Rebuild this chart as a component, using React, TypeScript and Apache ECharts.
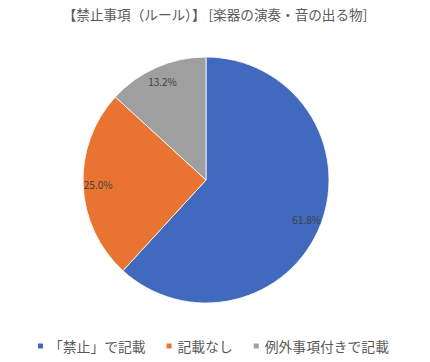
import React, { useEffect, useRef } from "react";
import * as echarts from "echarts";

const TITLE = "【禁止事項（ルール）】 [楽器の演奏・音の出る物]";
const categories = ["「禁止」で記載", "記載なし", "例外事項付きで記載"];
const values = [61.8, 25.0, 13.2];
const colors = ["#4169BE", "#E97432", "#9F9F9F"];

const FONT = "'Noto Sans CJK JP', 'Noto Sans', sans-serif";

export default function App() {
  const ref = useRef<HTMLDivElement>(null);
  useEffect(() => {
    if (!ref.current) return;
    const chart = echarts.init(ref.current, undefined, { renderer: "svg" });
    const data = categories.map((name, i) => ({
      name,
      value: values[i],
      itemStyle: { color: colors[i] },
    }));
    chart.setOption({
      animation: false,
      backgroundColor: "#ffffff",
      title: {
        text: TITLE,
        left: "center",
        top: 2,
        textStyle: { fontFamily: FONT, fontSize: 13.6, fontWeight: "normal", color: "#595959" },
      },
      legend: {
        data: categories,
        left: 31,
        top: 334,
        icon: "rect",
        itemWidth: 7,
        itemHeight: 7,
        itemGap: 19,
        textStyle: { fontFamily: FONT, fontSize: 13.8, color: "#595959" },
      },
      series: [
        {
          type: "pie",
          center: [206, 180],
          radius: 123,
          startAngle: 90,
          clockwise: true,
          label: { show: false },
          labelLine: { show: false },
          itemStyle: { borderColor: "#ffffff", borderWidth: 0.8 },
          silent: true,
          data,
        },
        {
          type: "pie",
          center: [206, 180],
          radius: [87, 123],
          startAngle: 90,
          clockwise: true,
          silent: true,
          itemStyle: { color: "transparent" },
          label: {
            show: true,
            position: "inside",
            formatter: (p: any) => p.value.toFixed(1) + "%",
            fontFamily: FONT,
            fontSize: 10,
            color: "#404040",
          },
          labelLine: { show: false },
          data: categories.map((name, i) => ({ name, value: values[i], itemStyle: { color: "transparent" } })),
        },
      ],
    });
    return () => chart.dispose();
  }, []);
  return <div ref={ref} style={{ position: "fixed", left: 0, top: 0, width: 430, height: 362 }} />;
}
